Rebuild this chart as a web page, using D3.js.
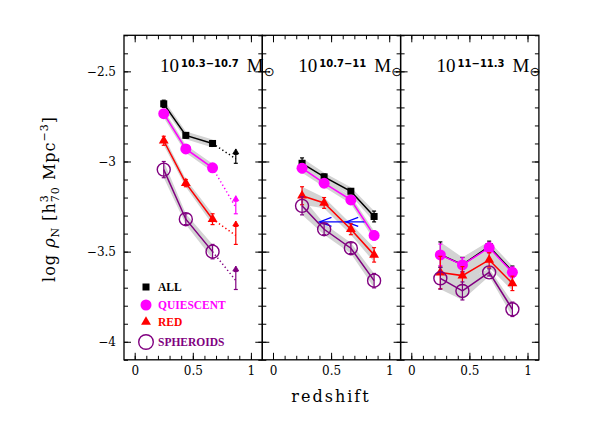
<!DOCTYPE html>
<html>
<head>
<meta charset="utf-8">
<script src="https://cdn.jsdelivr.net/npm/d3@7"></script>
<style>
body { margin: 0; background: #fff; }
</style>
</head>
<body>
<div id="chart"></div>
<script>
// redshift of the bins, mass bins (one per panel)
const redshift = [0.25, 0.44, 0.67, 0.87];
const massBins = ["10.3\u221210.7", "10.7\u221211", "11\u221211.3"];

// log number density per panel, per redshift bin
const allDens = [[-2.68, -2.855, -2.90, -2.985], [-3.01, -3.085, -3.165, -3.305], [-3.516, -3.572, -3.472, -3.61]];
const allErr  = [[0.02, 0.015, 0.015, 0.025], [0.03, 0.015, 0.012, 0.03], [0.07, 0.04, 0.03, 0.03]];
const quiDens = [[-2.735, -2.93, -3.035, -3.255], [-3.037, -3.12, -3.213, -3.41], [-3.518, -3.574, -3.478, -3.615]];
const quiErr  = [[0.015, 0.015, 0.015, 0.035], [0.025, 0.02, 0.02, 0.025], [0.06, 0.04, 0.03, 0.03]];
const redDens = [[-2.885, -3.12, -3.32, -3.41], [-3.19, -3.23, -3.376, -3.518], [-3.616, -3.633, -3.546, -3.676]];
const redErr  = [[0.025, 0.02, 0.03, 0.05], [0.05, 0.03, 0.03, 0.04], [0.09, 0.05, 0.04, 0.04]];
const sphDens = [[-3.045, -3.32, -3.50, -3.66], [-3.246, -3.376, -3.481, -3.661], [-3.648, -3.718, -3.615, -3.82]];
const sphErr  = [[0.045, 0.03, 0.04, 0.05], [0.05, 0.03, 0.03, 0.04], [0.06, 0.05, 0.02, 0.04]];

// index from which the points are lower limits (4 = none)
const limitFrom = [3, 4, 4];

// blue shift arrows in the middle panel: line ends and arrow tips (redshift), level
const shiftLine = [0.40, 0.79];
const shiftTips = [0.40, 0.63];
const shiftLevel = -3.335;

const xTicks = [0, 0.5, 1];
const yTicks = [-4, -3.5, -3, -2.5];
const seriesNames = ["ALL", "QUIESCENT", "RED", "SPHEROIDS"];

const W = 592, H = 443;
const plotLeft = 124, plotTop = 35.3, plotBottom = 359.8, panelW = 138.3;

const svg = d3.select('#chart').append('svg')
    .attr('width', W)
    .attr('height', H);

const y = d3.scaleLinear().domain([-4.1, -2.3]).range([plotBottom, plotTop]);

const series = [
    {name: seriesNames[0], color: "#000000", dens: allDens, err: allErr, shape: "square"},
    {name: seriesNames[1], color: "#ff00ff", dens: quiDens, err: quiErr, shape: "circle"},
    {name: seriesNames[2], color: "#ff0000", dens: redDens, err: redErr, shape: "triangle"},
    {name: seriesNames[3], color: "#800080", dens: sphDens, err: sphErr, shape: "ring"}
];

function marker(g, shape, color, cx, cy, big) {
    if (shape === "square") {
        g.append("rect").attr("x", cx - 3.5).attr("y", cy - 3.5)
            .attr("width", 7).attr("height", 7).attr("fill", color);
    } else if (shape === "circle") {
        g.append("circle").attr("cx", cx).attr("cy", cy).attr("r", 5.5).attr("fill", color);
    } else if (shape === "triangle") {
        g.append("path").attr("d", d3.symbol(d3.symbolTriangle, 42)())
            .attr("transform", "translate(" + cx + "," + cy + ")").attr("fill", color);
    } else {
        g.append("circle").attr("cx", cx).attr("cy", cy).attr("r", big ? 7.3 : 6.5)
            .attr("fill", "none").attr("stroke", color).attr("stroke-width", 1.4);
    }
}

function errBar(g, color, cx, y0, y1) {
    g.append("line").attr("x1", cx).attr("x2", cx).attr("y1", y0).attr("y2", y1)
        .attr("stroke", color).attr("stroke-width", 1.2);
    [y0, y1].forEach(v => {
        g.append("line").attr("x1", cx - 2).attr("x2", cx + 2).attr("y1", v).attr("y2", v)
            .attr("stroke", color).attr("stroke-width", 1.2);
    });
}

const minor = d3.range(-41, -22).map(d => d / 10);
const minorX = d3.range(0, 11).map(d => d / 10);

massBins.forEach((bin, p) => {
    const x0 = plotLeft + p * panelW;
    const x = d3.scaleLinear().domain([-0.092, 1.098]).range([x0, x0 + panelW]);
    const g = svg.append("g");
    const n = limitFrom[p];

    // grey bands
    series.forEach(s => {
        const pts = redshift.slice(0, n).map((z, i) => ({z: z, v: s.dens[p][i], e: Math.max(s.err[p][i], 0.022)}));
        g.append("path").datum(pts)
            .attr("d", d3.area().x(d => x(d.z)).y0(d => y(d.v - d.e)).y1(d => y(d.v + d.e)))
            .attr("fill", "#d3d3d3");
    });

    // blue arrows
    if (p === 1) {
        g.append("line")
            .attr("x1", x(shiftLine[0])).attr("x2", x(shiftLine[1]))
            .attr("y1", y(shiftLevel)).attr("y2", y(shiftLevel))
            .attr("stroke", "#0000ff").attr("stroke-width", 1.2);
        shiftTips.forEach(t => {
            const tx = x(t), ty = y(shiftLevel);
            g.append("path")
                .attr("d", "M" + (tx + 12) + "," + (ty - 4.5) + "L" + tx + "," + ty + "L" + (tx + 12) + "," + (ty + 4.5))
                .attr("fill", "none").attr("stroke", "#0000ff").attr("stroke-width", 1.3);
        });
    }

    // series
    series.forEach(s => {
        const pts = redshift.map((z, i) => ({z: z, v: s.dens[p][i], e: s.err[p][i]}));
        const line = d3.line().x(d => x(d.z)).y(d => y(d.v));
        g.append("path").datum(pts.slice(0, n))
            .attr("d", line).attr("fill", "none")
            .attr("stroke", s.color).attr("stroke-width", 1.5);
        if (n < pts.length) {
            g.append("path").datum(pts.slice(n - 1))
                .attr("d", line).attr("fill", "none")
                .attr("stroke", s.color).attr("stroke-width", 1.5)
                .attr("stroke-dasharray", "1.3,2.6");
        }
        pts.forEach((d, i) => {
            const cx = x(d.z);
            errBar(g, s.color, cx, y(d.v - d.e), y(d.v + d.e));
            if (i < n) {
                marker(g, s.shape, s.color, cx, y(d.v));
            } else {
                // lower limit: error bar with an arrow head on top
                const tip = y(d.v + d.e + 0.03);
                g.append("line").attr("x1", cx).attr("x2", cx).attr("y1", y(d.v + d.e)).attr("y2", tip)
                    .attr("stroke", s.color).attr("stroke-width", 1.2);
                g.append("path")
                    .attr("d", "M" + (cx - 3) + "," + (tip + 5) + "L" + cx + "," + tip + "L" + (cx + 3) + "," + (tip + 5) + "Z")
                    .attr("fill", s.color).attr("stroke", s.color).attr("stroke-width", 0.8);
            }
        });
    });

    // axes, ticks inward on all four sides
    const fmtY = d3.format("");
    const axes = [
        [d3.axisLeft(y).tickValues(yTicks).tickSize(-7).tickPadding(8).tickFormat(p === 0 ? fmtY : ""), "translate(" + x0 + ",0)"],
        [d3.axisLeft(y).tickValues(minor).tickSize(-4).tickFormat(""), "translate(" + x0 + ",0)"],
        [d3.axisRight(y).tickValues(yTicks).tickSize(-7).tickFormat(""), "translate(" + (x0 + panelW) + ",0)"],
        [d3.axisRight(y).tickValues(minor).tickSize(-4).tickFormat(""), "translate(" + (x0 + panelW) + ",0)"],
        [d3.axisTop(x).tickValues(xTicks).tickSize(-7).tickFormat(""), "translate(0," + plotTop + ")"],
        [d3.axisTop(x).tickValues(minorX).tickSize(-4).tickFormat(""), "translate(0," + plotTop + ")"],
        [d3.axisBottom(x).tickValues(xTicks).tickSize(-7).tickPadding(7).tickFormat(d3.format("")), "translate(0," + plotBottom + ")"],
        [d3.axisBottom(x).tickValues(minorX).tickSize(-4).tickFormat(""), "translate(0," + plotBottom + ")"]
    ];
    axes.forEach(a => {
        const ag = g.append("g").attr("transform", a[1]).call(a[0]);
        ag.select(".domain").remove();
        ag.selectAll(".tick line").attr("stroke", "#000").attr("stroke-width", 1);
        ag.selectAll(".tick text")
            .attr("fill", "#000")
            .style("font-family", "DejaVu Serif")
            .style("font-size", "12px");
    });

    g.append("rect")
        .attr("x", x0).attr("y", plotTop)
        .attr("width", panelW).attr("height", plotBottom - plotTop)
        .attr("fill", "none").attr("stroke", "#000").attr("stroke-width", 1.3);

    // panel title
    const t = svg.append("text")
        .attr("x", x0 + 36).attr("y", 72)
        .style("font-family", "Liberation Serif").style("font-size", "19px");
    t.append("tspan").text("10");
    t.append("tspan").attr("dx", 2).attr("dy", -5)
        .style("font-family", "DejaVu Sans").style("font-weight", "bold").style("font-size", "10px").text(bin);
    t.append("tspan").attr("dx", 8).attr("dy", 5).text("M");
    t.append("tspan").attr("dy", 4)
        .style("font-family", "DejaVu Sans").style("font-size", "13px").text("\u2299");
});

// legend
const legY = [287, 305, 322, 342];
series.forEach((s, i) => {
    const lg = svg.append("g");
    marker(lg, s.shape, s.color, 146, legY[i], true);
    lg.append("text")
        .attr("x", 158).attr("y", legY[i]).attr("dy", "0.35em")
        .attr("fill", s.color)
        .style("font-family", "Liberation Serif").style("font-weight", "bold").style("font-size", "11.5px")
        .text(s.name);
});

// axis titles
svg.append("text")
    .attr("x", 331).attr("y", 402)
    .attr("text-anchor", "middle")
    .style("font-family", "DejaVu Serif").style("font-size", "16px").style("letter-spacing", "2px")
    .text("redshift");

const yl = svg.append("text")
    .attr("transform", "translate(55,199) rotate(-90)")
    .attr("text-anchor", "middle")
    .style("font-family", "DejaVu Serif").style("font-size", "16px").style("letter-spacing", "1px");
yl.append("tspan").text("log  ");
yl.append("tspan").style("font-style", "italic").text("\u03c1");
yl.append("tspan").attr("dy", 4).style("font-size", "11px").text("N");
yl.append("tspan").attr("dy", -4).text("  [h");
yl.append("tspan").attr("dy", -7).style("font-size", "11px").text("3");
yl.append("tspan").attr("dx", -8).attr("dy", 11).style("font-size", "11px").text("70");
yl.append("tspan").attr("dy", -4).text(" Mpc");
yl.append("tspan").attr("dy", -7).style("font-size", "11px").text("\u22123");
yl.append("tspan").attr("dy", 7).text("]");
</script>
</body>
</html>
